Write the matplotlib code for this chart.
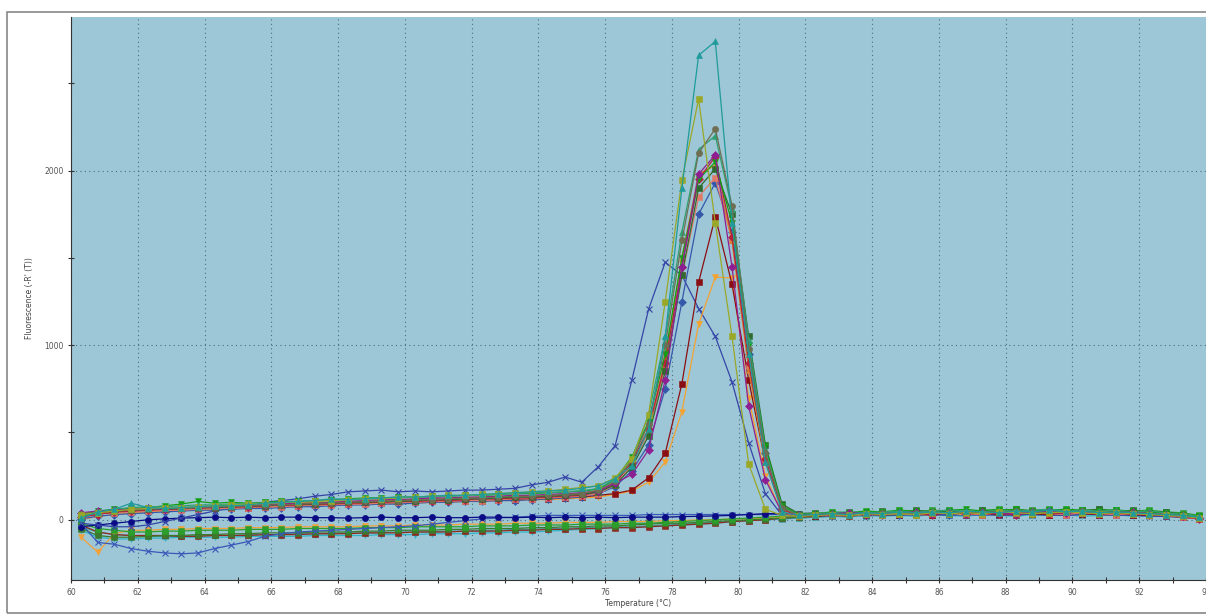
import numpy as np
import matplotlib.pyplot as plt
from matplotlib.patches import Rectangle
from matplotlib.ticker import MultipleLocator

# temperature steps of the melt curve (deg C)
temps = [round(60.3 + 0.5 * k, 1) for k in range(68)]

# ---- negative wells (flat, no product) ----
neg_teal = [-40, -70, -85, -90, -95, -95, -95, -90, -90, -90,
            -85, -85, -85, -80, -80, -80, -75, -75, -75, -70,
            -70, -70, -65, -65, -60, -60, -55, -55, -50, -50,
            -45, -45, -40, -40, -35, -30, -25, -20, -15, -10,
            -5, 0, 5, 10,
            15, 20, 25, 20, 30, 25, 30, 35, 30, 25, 35, 30, 35, 30, 25, 35, 30, 35, 30, 25, 30, 25, 20, 10]
neg_dkgreen = [-50, -90, -100, -100, -95, -90, -90, -85, -85, -80,
               -80, -75, -75, -75, -70, -70, -70, -65, -65, -60,
               -60, -60, -55, -55, -50, -50, -50, -45, -45, -40,
               -40, -35, -35, -30, -25, -20, -20, -15, -10, -5,
               0, 5, 10, 15,
               20, 25, 35, 30, 40, 35, 45, 40, 35, 45, 50, 40, 45, 50, 40, 45, 55, 45, 40, 50, 40, 35, 30, 20]
neg_orange = [-100, -185, -80, -60, -60, -55, -55, -50, -50, -50,
              -45, -45, -45, -40, -40, -40, -40, -35, -35, -35,
              -30, -30, -30, -25, -25, -25, -20, -20, -20, -15,
              -15, -15, -10, -10, -10, -5, -5, 0, 0, 5,
              5, 10, 15, 20,
              25, 20, 30, 25, 30, 35, 25, 30, 35, 30, 40, 30, 35, 30, 40, 35, 30, 35, 40, 30, 35, 25, 20, 10]
neg_maroon = [-30, -70, -85, -90, -90, -90, -95, -95, -90, -90,
              -90, -85, -85, -85, -80, -80, -80, -75, -75, -75,
              -70, -70, -70, -65, -65, -65, -60, -60, -55, -55,
              -50, -50, -45, -45, -40, -35, -30, -25, -20, -10,
              -5, 0, 10, 15,
              20, 25, 20, 30, 25, 35, 30, 25, 35, 30, 35, 25, 30, 35, 30, 25, 35, 30, 25, 30, 25, 20, 15, 5]
neg_cyan = [-60, -100, -110, -110, -105, -105, -100, -100, -100, -100,
            -95, -95, -95, -95, -90, -90, -90, -90, -85, -85,
            -85, -80, -80, -80, -75, -75, -70, -70, -65, -60,
            -55, -50, -45, -45, -40, -35, -30, -25, -20, -10,
            -5, 0, 5, 10,
            15, 20, 15, 25, 20, 25, 20, 30, 25, 20, 30, 25, 20, 30, 25, 30, 20, 25, 30, 20, 25, 20, 15, 5]
neg_green = [-20, -50, -60, -70, -70, -65, -65, -60, -60, -60,
             -55, -55, -55, -50, -50, -50, -50, -45, -45, -45,
             -40, -40, -40, -40, -35, -35, -35, -30, -30, -30,
             -25, -25, -25, -20, -20, -15, -10, -5, 0, 5,
             10, 15, 20, 25,
             30, 40, 35, 45, 40, 50, 45, 55, 50, 45, 55, 60, 50, 55, 60, 50, 55, 60, 55, 50, 55, 45, 40, 25]
neg_navy = [-40, -30, -20, -10, 0, 5, 10, 12, 15, 12,
            15, 12, 15, 15, 12, 12, 10, 12, 15, 12,
            12, 15, 12, 12, 15, 15, 12, 15, 12, 15,
            12, 15, 12, 15, 15, 15, 18, 20, 22, 25,
            30, 35, 35, 35,
            30, 35, 40, 35, 40, 35, 40, 45, 40, 35, 40, 45, 40, 35, 40, 45, 40, 35, 40, 35, 30, 30, 25, 15]
neg_dip = [-20, -130, -140, -165, -180, -190, -195, -190, -165, -145,
           -125, -95, -80, -70, -65, -60, -55, -50, -45, -40,
           -35, -25, -15, -5, 5, 10, 15, 20, 25, 25,
           25, 25, 25, 25, 30, 30, 30, 30, 30, 30,
           30, 30, 30, 25,
           25, 30, 25, 30, 35, 30, 25, 30, 35, 30, 25, 30, 35, 30, 25, 30, 35, 30, 25, 30, 25, 20, 20, 10]

# ---- positive wells (melt peak near 79 C) ----
pos_teal = [10, 45, 60, 95, 70, 65, 70, 75, 80, 80, 85, 95, 100, 105, 110, 120, 115, 120, 125, 130,
            130, 135, 140, 140, 145, 150, 155, 160, 165, 170, 180,
            195, 235, 310, 520, 1050, 1900, 2660, 2740, 1700, 950, 330, 45,
            25, 30, 35, 30, 40, 35, 45, 40, 45, 40, 50, 45, 40, 50, 45, 55, 45, 50, 40, 45, 40, 35, 30, 25, 15]
pos_olive = [30, 40, 50, 60, 65, 70, 70, 75, 80, 85, 90, 95, 100, 100, 105, 110, 115, 120, 120, 125,
             130, 135, 140, 140, 145, 150, 155, 160, 165, 175, 185,
             195, 240, 350, 600, 1250, 1945, 2410, 1700, 1050, 320, 60, 25,
             20, 25, 30, 25, 35, 30, 35, 30, 40, 35, 40, 35, 45, 40, 35, 40, 45, 40, 35, 40, 35, 30, 25, 20, 10]
pos_purple = [40, 50, 55, 60, 65, 60, 70, 70, 75, 80, 80, 85, 90, 95, 95, 100, 105, 110, 115, 115,
              120, 125, 125, 130, 130, 135, 140, 140, 145, 150, 155,
              165, 210, 260, 400, 800, 1450, 1980, 2090, 1450, 650, 230, 40,
              25, 30, 35, 40, 35, 30, 40, 45, 35, 40, 35, 45, 40, 35, 45, 50, 40, 45, 35, 40, 45, 35, 30, 20, 10]
pos_maroon = [20, 35, 40, 50, 55, 60, 60, 65, 65, 70, 70, 75, 80, 80, 85, 90, 90, 95, 95, 100,
              100, 105, 105, 110, 110, 115, 115, 120, 120, 125, 130,
              140, 150, 170, 240, 380, 780, 1360, 1735, 1350, 800, 330, 60,
              25, 20, 30, 25, 35, 30, 30, 35, 30, 40, 35, 30, 35, 40, 35, 30, 40, 35, 30, 35, 30, 25, 25, 15, 5]
pos_orange = [0, 20, 30, 40, 45, 50, 55, 55, 60, 65, 70, 70, 75, 75, 80, 85, 85, 90, 90, 95,
              95, 100, 100, 105, 105, 110, 110, 115, 115, 120, 125,
              130, 145, 165, 215, 330, 620, 1120, 1390, 1385, 700, 250, 40,
              20, 25, 30, 25, 30, 35, 30, 35, 40, 35, 30, 40, 35, 45, 40, 35, 40, 35, 45, 40, 35, 30, 30, 20, 10]
pos_green = [30, 50, 60, 65, 70, 80, 90, 105, 95, 100, 95, 100, 105, 105, 110, 115, 120, 125, 125, 130,
             130, 135, 135, 140, 140, 145, 150, 150, 155, 160, 165,
             175, 230, 360, 560, 950, 1500, 1950, 2050, 1700, 1000, 420, 80,
             30, 35, 45, 40, 50, 45, 55, 50, 45, 55, 60, 50, 55, 60, 50, 55, 60, 55, 50, 55, 50, 45, 40, 30, 20]
pos_dkgreen = [25, 40, 50, 55, 60, 60, 65, 70, 70, 75, 80, 80, 85, 90, 90, 95, 100, 100, 105, 105,
               110, 115, 115, 120, 120, 125, 130, 130, 135, 140, 145,
               160, 200, 300, 480, 850, 1400, 1900, 2010, 1750, 1050, 430, 90,
               35, 40, 30, 45, 35, 50, 40, 55, 45, 50, 40, 55, 45, 60, 50, 45, 55, 50, 60, 45, 55, 40, 45, 30, 15]
pos_gray = [35, 45, 50, 55, 60, 65, 65, 70, 75, 75, 80, 85, 85, 90, 95, 95, 100, 105, 105, 110,
            115, 115, 120, 125, 125, 130, 135, 135, 140, 145, 150,
            170, 220, 340, 550, 1000, 1600, 2100, 2240, 1800, 980, 380, 70,
            25, 30, 35, 30, 35, 40, 35, 40, 45, 40, 45, 40, 45, 50, 45, 40, 45, 50, 40, 45, 40, 35, 30, 25, 10]
pos_crimson = [15, 30, 45, 50, 55, 60, 65, 70, 70, 75, 75, 80, 85, 85, 90, 90, 95, 100, 100, 105,
               105, 110, 110, 115, 120, 120, 125, 125, 130, 135, 140,
               160, 210, 330, 520, 900, 1450, 1950, 2080, 1620, 900, 350, 60,
               20, 25, 30, 35, 30, 35, 40, 35, 30, 40, 35, 40, 35, 30, 40, 35, 40, 45, 35, 40, 35, 30, 25, 20, 5]
pos_salmon = [25, 35, 40, 45, 50, 55, 55, 60, 65, 65, 70, 75, 75, 80, 85, 85, 90, 90, 95, 100,
              100, 105, 105, 110, 110, 115, 120, 120, 125, 130, 135,
              150, 200, 310, 500, 880, 1400, 1850, 1960, 1600, 880, 340, 60,
              20, 30, 25, 30, 35, 30, 35, 30, 35, 40, 35, 30, 40, 35, 40, 35, 30, 40, 35, 30, 35, 30, 25, 15, 5]
pos_seagreen = [20, 40, 60, 70, 75, 75, 80, 85, 85, 90, 95, 95, 100, 105, 110, 110, 115, 120, 125, 125,
                130, 130, 135, 140, 140, 145, 150, 155, 155, 160, 165,
                180, 230, 350, 600, 1050, 1650, 2120, 2200, 1780, 1030, 400, 70,
                30, 35, 40, 45, 40, 45, 50, 45, 50, 55, 50, 45, 55, 50, 55, 60, 50, 55, 50, 55, 45, 50, 40, 30, 20]
pos_steel = [5, 20, 30, 35, 40, 45, 50, 55, 55, 60, 65, 65, 70, 75, 75, 80, 85, 85, 90, 90,
             95, 100, 100, 105, 105, 110, 110, 115, 120, 125, 130,
             150, 190, 280, 430, 750, 1250, 1750, 1930, 1650, 950, 380, 70,
             25, 30, 25, 35, 30, 35, 30, 40, 35, 30, 40, 35, 40, 35, 40, 45, 35, 40, 35, 40, 35, 30, 25, 20, 10]
pos_brown = [30, 45, 55, 60, 65, 70, 70, 75, 80, 80, 85, 90, 90, 95, 100, 100, 105, 105, 110, 115,
             115, 120, 120, 125, 130, 130, 135, 135, 140, 145, 150,
             165, 215, 320, 520, 920, 1500, 1980, 2030, 1600, 860, 330, 55,
             30, 35, 40, 35, 45, 40, 45, 50, 40, 45, 50, 45, 50, 45, 55, 50, 45, 50, 55, 45, 50, 40, 35, 25, 15]
pos_early = [-20, -30, -40, -40, -30, -10, 10, 30, 50, 70, 85, 100, 110, 120, 135, 145, 160, 165, 170, 160,
             165, 160, 165, 170, 170, 175, 180, 200, 215, 245, 215,
             305, 425, 800, 1205, 1475, 1400, 1210, 1050, 790, 440, 150, 25,
             20, 25, 20, 30, 25, 30, 25, 35, 30, 25, 30, 35, 30, 25, 35, 30, 25, 30, 35, 30, 25, 20, 20, 15, 5]

# (values, colour, marker)
wells = [
    (neg_cyan, '#2fb3c6', 'v'),
    (neg_teal, '#3f9c9c', 's'),
    (neg_maroon, '#8e2a1e', 's'),
    (neg_orange, '#f3a13a', 'v'),
    (neg_dkgreen, '#3b7a2c', 's'),
    (neg_green, '#2c9e2c', 's'),
    (neg_dip, '#3a58b8', 'x'),
    (neg_navy, '#0b0b86', 'o'),
    (pos_early, '#3544a6', 'x'),
    (pos_orange, '#f5a231', 'v'),
    (pos_maroon, '#8a0f12', 's'),
    (pos_steel, '#3658ab', 'D'),
    (pos_salmon, '#e07a6a', 's'),
    (pos_brown, '#d9832c', '^'),
    (pos_crimson, '#b3213d', 'D'),
    (pos_dkgreen, '#2f6a30', 's'),
    (pos_green, '#12a012', 'v'),
    (pos_seagreen, '#2fa071', '^'),
    (pos_purple, '#8e1f93', 'D'),
    (pos_gray, '#6e6e52', 'o'),
    (pos_olive, '#9aa827', 's'),
    (pos_teal, '#1f9b9b', '^'),
]

fig = plt.figure(figsize=(12.06, 6.15), dpi=100)
ax = fig.add_axes([0.0589, 0.0569, 0.9411, 0.9155])
ax.set_facecolor('#9dc7d6')

for vals, col, mk in wells:
    ms = 4.5 if mk != 'D' else 3.8
    ax.plot(temps, vals, color=col, lw=0.9, marker=mk, ms=ms,
            mec=col, mew=0.8 if mk == 'x' else 0.4)

ax.set_xlim(60, 94)
ax.set_ylim(-345, 2880)
ax.xaxis.set_major_locator(MultipleLocator(2))
ax.xaxis.set_minor_locator(MultipleLocator(1))
ax.yaxis.set_major_locator(MultipleLocator(1000))
ax.yaxis.set_minor_locator(MultipleLocator(500))
ax.grid(True, which='major', ls=(0, (1, 3)), color='#4f6e7c', lw=0.8)
ax.tick_params(which='both', direction='inout', length=4, width=0.8,
               labelsize=5.5, labelcolor='#555555', color='#333333')
ax.tick_params(axis='x', pad=4)

for s in ['top', 'right']:
    ax.spines[s].set_visible(False)
ax.spines['left'].set_color('#333333')
ax.spines['bottom'].set_color('#333333')

ax.set_xlabel('Temperature (°C)', fontsize=5.5, color='#444444', labelpad=1)
ax.set_ylabel("Fluorescence (-R' (T))", fontsize=5.5, color='#444444', labelpad=7)

# outer border of the instrument export
fig.patches.append(Rectangle((0.0058, 0.003), 1.2, 0.977, transform=fig.transFigure,
                             fill=False, ec='#888888', lw=1.2))

fig.savefig('out.png', dpi=100)
